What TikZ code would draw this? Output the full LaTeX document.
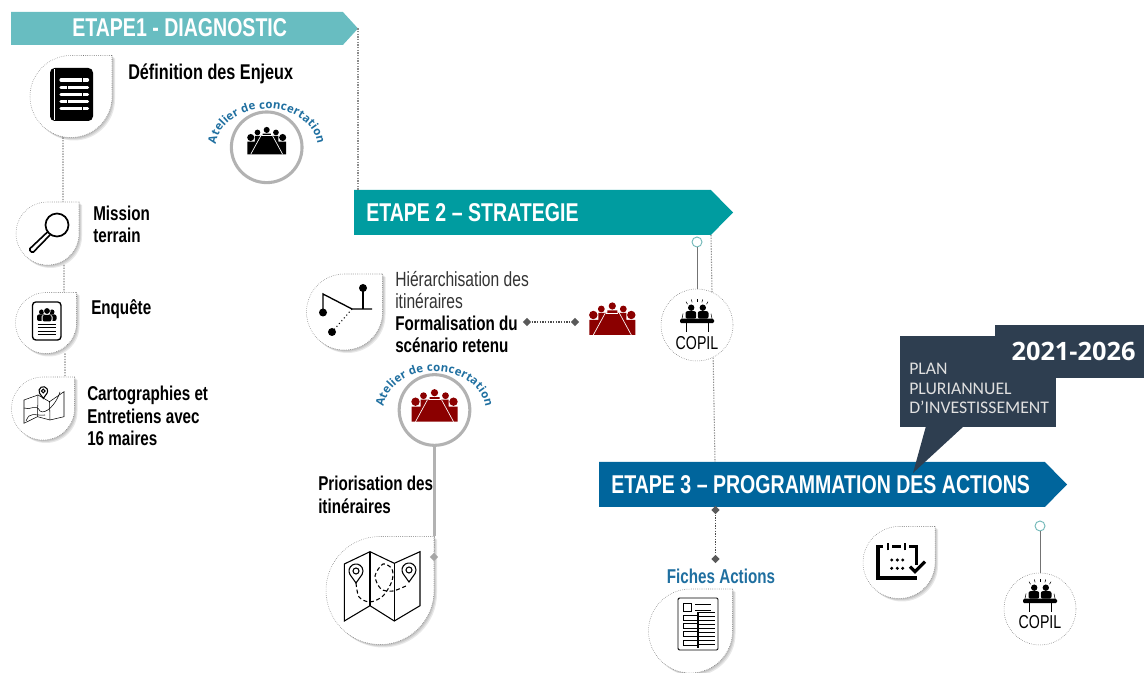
\documentclass[tikz,border=0pt]{standalone}
\usepackage{fontspec}
\usepackage{xcolor}
\usepackage{tikz}
\setmainfont{Liberation Sans}
\newfontfamily\narrowfont[FakeStretch=0.76]{Liberation Sans}
\newfontfamily\arcfont{Open Sans}
\newfontfamily\planfont{Carlito}
\usetikzlibrary{shapes,positioning,calc,backgrounds,decorations.text}

\definecolor{stepone}{HTML}{68BDC1}
\definecolor{steptwo}{HTML}{009CA0}
\definecolor{stepthree}{HTML}{00659C}
\definecolor{planblue}{HTML}{2E3E50}
\definecolor{arcblue}{HTML}{1F6FA0}
\definecolor{tablered}{HTML}{8B0000}
\definecolor{linkgray}{HTML}{8C8C8C}

\tikzset{
    bannerbox/.style={signal, signal to=east, anchor=west, inner sep=0pt, outer sep=0pt},
    bannertext/.style={anchor=west, inner sep=0pt, text=white, font=\narrowfont\bfseries\fontsize{19.3}{20}\selectfont},
    steptext/.style={anchor=west, inner sep=0pt, align=left, font=\narrowfont\bfseries\fontsize{15}{17}\selectfont},
    dropbox/.style={rectangle, inner sep=0pt, outer sep=0pt},
    dropedge/.style={draw=black!55, fill=white, line width=0.4pt, densely dotted},
    linkdot/.style={draw=linkgray, line width=1pt, densely dotted},
    linkdiamond/.style={diamond, fill=black!65, inner sep=0pt, minimum size=6.5pt},
    ringnode/.style={circle, draw=black!30, line width=2.3pt, fill=white, inner sep=0pt, minimum size=53pt},
    copilring/.style={circle, draw=black!60, densely dotted, line width=0.4pt, fill=white, inner sep=0pt, minimum size=54pt},
    pinnode/.style={circle, draw=teal!55, line width=0.7pt, fill=white, inner sep=0pt, minimum size=7.5pt},
    copiltext/.style={font=\narrowfont\fontsize{14}{14}\selectfont},
    % Table with people around it
    pics/meeting/.style={code={
        \fill (0,14) circle (3.6);
        \fill (-11,11) circle (3.4);
        \fill (11,11) circle (3.4);
        \fill (-19,5) circle (4.2);
        \fill (19,5) circle (4.2);
        \fill (-23,-15) -- (-23,0) -- (-14,0) -- (-14,7) -- (-5,7) -- (-5,9.5) -- (5,9.5) -- (5,7) -- (14,7) -- (14,0) -- (23,0) -- (23,-15) -- cycle;
        \draw[white, line width=0.5pt] (-6,7) -- (6,7);
        \draw[white, line width=0.5pt] (-7,7) -- (-19,-15);
        \draw[white, line width=0.5pt] (7,7) -- (19,-15);
    }},
    % Two people behind a desk
    pics/copildesk/.style={code={
        \fill[rounded corners=1] (-17,-2.5) rectangle (17,2);
        \draw[line width=0.7pt] (-11,-2) -- (-11,-11);
        \draw[line width=0.7pt] (11,-2) -- (11,-11);
        \fill (-5.8,13) circle (3.2);
        \fill (5.8,13) circle (3.2);
        \fill[rounded corners=1.5] (-11.5,2) rectangle (-0.8,9.5);
        \fill[rounded corners=1.5] (0.8,2) rectangle (11.5,9.5);
        \draw[line width=0.4pt] (-15,2) -- (-14,7);
        \draw[line width=0.4pt] (15,2) -- (14,7);
        \foreach \a in {60,75,90,105,120}
            \draw[line width=0.4pt] (\a:19) -- (\a:22);
    }},
    % Location pin
    pics/mappin/.style={code={
        \draw[line width=0.8pt] (0,-12) -- (-6.06,-3.5) arc[start angle=210, end angle=-30, radius=7] -- cycle;
        \draw[line width=0.8pt] (0,0) circle (3);
    }}
}

% Drop outline with its top right corner left square
\newcommand{\droppath}[3]{({#1+#3},{#2+#3}) -- ({#1+#3},#2) arc[start angle=0, end angle=-270, radius=#3] -- cycle}
\newcommand{\dropnode}[4]{
    \foreach \d in {3,2,1}
        \fill[black, opacity=0.09, shift={(\d,-\d)}] \droppath{#2}{#3}{#4};
    \path[dropedge] \droppath{#2}{#3}{#4};
    \node[dropbox, minimum size={1.5pt*#4}] (#1) at (#2,#3) {};
}
% Ring with the curved title and the table
\newcommand{\ateliernode}[6]{
    \node[ringnode] (#1) at (#2,#3) {};
    \pic[color=#4, scale=#5] at (#2,{#3+#6}) {meeting};
    \path[decorate, decoration={text along path, text align={fit to path},
        text={|\arcfont\fontsize{8.6}{10}\selectfont\bfseries\color{arcblue}|Atelier de concertation}}]
        ({#2-50.8},{#3+3}) arc[start angle=175, end angle=5, x radius=51, y radius=39];
}

\begin{document}
\begin{tikzpicture}[x=0.75pt, y=0.75pt]
    \useasboundingbox (0,0) rectangle (1144,673);

    % Banners
    \node[bannerbox, fill=stepone, signal pointer angle=95, minimum width=260.25pt, minimum height=24.75pt] (bannerA) at (11,644.5) {};
    \node[bannerbox, fill=steptwo, signal pointer angle=91, minimum width=284.25pt, minimum height=33.75pt] (bannerB) at (354,460.5) {};
    \node[bannerbox, fill=stepthree, signal pointer angle=91, minimum width=351pt, minimum height=33.75pt] (bannerC) at (599,188.5) {};
    \node[bannertext] (labelA) at (72,645) {ETAPE1 - DIAGNOSTIC};
    \node[bannertext] (labelB) at (366,460.5) {ETAPE 2 – STRATEGIE};
    \node[bannertext] (labelC) at (611,188.5) {ETAPE 3 – PROGRAMMATION DES ACTIONS};

    % Dotted links between the banners
    \coordinate (tipB) at (711,438);
    \coordinate (joinC) at (715,211);
    \draw[linkdot, line width=0.8pt] (bannerA.east) -- (bannerA.east |- bannerB.north);
    \draw[linkdot, line width=0.8pt] (tipB) -- (joinC);

    % Drops of the first step
    \dropnode{dropA}{71}{576.5}{41}
    \dropnode{dropB}{47.5}{439.5}{31.5}
    \dropnode{dropC}{46}{350}{30.5}
    \dropnode{dropD}{43}{264.5}{31.5}
    \begin{pgfonlayer}{background}
        \draw[linkdot] ([xshift=-6pt]dropA.south) -- ([xshift=11.6pt]dropB.north);
        \draw[linkdot] ([xshift=12.4pt]dropB.south) -- ([xshift=13.5pt]dropC.north);
        \draw[linkdot] ([xshift=14.2pt]dropC.south) -- ([xshift=16.5pt]dropD.north);
    \end{pgfonlayer}

    % Document icon
    \fill[rounded corners=3.5] (50,552) rectangle (93,605);
    \draw[white, line width=0.6pt] (54.5,553) -- (54.5,604);
    \foreach \y/\g in {593/81.5, 585.7/66.5, 578.7/81.5, 571.7/66.5, 564.3/81.5} {
        \draw[white, line width=2.4pt, line cap=round] (61,\y) -- (87.5,\y);
        \fill (\g,{\y-1.8}) rectangle ({\g+1.2},{\y+1.8});
    }

    % Magnifier icon
    \draw[line width=1.3pt] (57,448) circle (11.5);
    \draw[line width=1.2pt, line cap=round, rounded corners=1] (47.5,441) -- (29,423.5) -- (32.5,420) -- (50,438);

    % Survey icon
    \draw[line width=1pt, rounded corners=2.5] (32.5,333) rectangle (61,371);
    \foreach \x/\r in {41.5/2.5, 52/2.5} {
        \fill (\x,361) circle (\r);
        \fill[rounded corners=1.5] (\x-4.5,352) rectangle (\x+4.5,358.5);
    }
    \fill[white] (47,362) circle (3.7);
    \fill[white, rounded corners=1.5] (41.5,350.5) rectangle (52.5,358);
    \fill (47,362) circle (2.9);
    \fill[rounded corners=1.5] (42.5,351.5) rectangle (51.5,358);
    \foreach \y in {349,345.7,341.7,338.3}
        \draw[line width=0.7pt] (37.5,\y) -- (56,\y);

    % Folded map icon
    \draw[line width=0.4pt] (24,273) -- (38,278) -- (49.5,271.3) -- (64,281.3) -- (64,256.3) -- (50,253) -- (37.5,256.3) -- (24,249.7) -- cycle;
    \draw[line width=0.4pt] (38,278) -- (37.5,256.3);
    \draw[line width=0.4pt] (49.5,271.3) -- (50,253);
    \draw[line width=0.4pt] (24,265) .. controls (30,262) and (36,270) .. (40,262) .. controls (45,258) and (56,268) .. (60,281);
    \draw[line width=0.4pt] (26,252) .. controls (30,262) and (34,257) .. (45,258);
    \pic[scale=0.62, line width=0.4pt] at (43.3,282) {mappin};

    % Texts of the first step
    \node[steptext, font=\narrowfont\bfseries\fontsize{16}{17}\selectfont] (enjeux) at (128,599) {Définition des Enjeux};
    \node[steptext] (mission) at (93,448.5) {Mission\\terrain};
    \node[steptext] (enquete) at (91,364) {Enquête};
    \node[steptext] (cartes) at (87,257) {Cartographies et\\Entretiens avec\\16 maires};
    \ateliernode{atelierA}{266.7}{525.7}{black}{0.84}{5.6}

    % Second step
    \dropnode{dropE}{344.5}{361}{38}
    \draw[line width=1pt] (323,361) -- (323,379) -- (352,364) -- (372,364);
    \draw[line width=1pt] (363,364) -- (363,385);
    \draw[line width=0.8pt, dotted] (352,364) -- (332,341);
    \fill (323,360.5) circle (4);
    \fill (363,385) circle (4);
    \fill (332,341) circle (4);
    \node[steptext, text=black!80, font=\narrowfont\fontsize{15.4}{16.5}\selectfont] (hierarchie) at (395,361)
        {Hiérarchisation des\\itinéraires\\\textcolor{black}{\fontsize{15}{16.5}\selectfont\bfseries Formalisation du}\\\textcolor{black}{\fontsize{15}{16.5}\selectfont\bfseries scénario retenu}};
    \node[linkdiamond] (dotA) at (527,351) {};
    \node[linkdiamond] (dotB) at (575,351) {};
    \draw[linkdot, draw=black!70] (dotA) -- (dotB);
    \pic[color=tablered] at (612.3,353) {meeting};
    \ateliernode{atelierB}{434.5}{263}{tablered}{1}{3.3}
    \node[steptext] (priorisation) at (318,178) {Priorisation des\\itinéraires};
    \dropnode{dropF}{380}{82.5}{54}
    \node[linkdiamond, fill=black!35] (dotE) at (434,116) {};
    \begin{pgfonlayer}{background}
        \draw[draw=black!30, line width=1.6pt] (atelierB.south) -- (atelierB.south |- dropF.north);
    \end{pgfonlayer}
    \draw[linkdot, draw=black!35, line width=0.6pt] (dropF.north east) -- (dotE);

    % Route map icon
    \draw[line width=0.8pt] (344.3,109) -- (370,121.3) -- (394.3,109.7) -- (420,121.3) -- (420,67.3) -- (394.3,52) -- (370,67.3) -- (344.3,52) -- cycle;
    \draw[line width=0.8pt] (370,121.3) -- (370,67.3);
    \draw[line width=1.1pt] (394.3,109.7) -- (394.3,52);
    \pic at (356,102) {mappin};
    \pic at (409,103) {mappin};
    \draw[line width=0.8pt, densely dashed] plot[smooth] coordinates {(356,90) (359,76) (370,71) (383,77) (392,92) (392,104) (383,109) (375,97) (381,84) (393,82) (408,88)};

    % Desk committee of the second step
    \node[pinnode] (pinA) at (697,431) {};
    \node[copilring] (copilA) at (697,348) {};
    \draw[black!55, line width=0.6pt] (pinA) -- (copilA);
    \pic at (697,352.3) {copildesk};
    \node[copiltext] (copilAtext) at (697,330) {COPIL};

    % Third step
    \node[linkdiamond] (dotC) at (715.5,163) {};
    \node[linkdiamond] (dotD) at (715.5,114) {};
    \draw[linkdot, draw=black!70] (dotC) -- (dotD);
    \node[steptext, anchor=center, text=arcblue] (fiches) at (721,97) {Fiches Actions};
    \dropnode{dropG}{690.5}{42}{42}

    % Action sheet icon
    \draw[line width=0.7pt, fill=white, rounded corners=1] (678,23) rectangle (718,75);
    \draw[line width=0.6pt] (683,62) rectangle (691,70);
    \draw[line width=0.6pt] (695,69) -- (711,69);
    \draw[line width=0.6pt] (695,63) -- (711,63);
    \foreach \y in {53,45,37,28}
        \draw[line width=0.6pt] (683,\y) rectangle (697,{\y+4.5});
    \foreach \y in {61,57,53,49,45,41,37,33,29}
        \draw[line width=0.5pt] (698,\y) -- (715,\y);
    \draw[line width=1.5pt] (698,25) -- (698,61);

    % Calendar icon
    \dropnode{dropH}{899}{110.5}{36}
    \draw[line width=2.6pt] (883,126.3) -- (878,126.3) -- (878,95) -- (916.7,95);
    \draw[line width=2.6pt] (892,126.3) -- (901,126.3);
    \draw[line width=2.6pt] (909,126.3) -- (916.7,126.3) -- (916.7,108);
    \draw[line width=1.5pt] (888,122.5) -- (888,130);
    \draw[line width=1.5pt] (905,122.5) -- (905,130);
    \foreach \x in {891.7,897.3,902.7}
        \foreach \y in {113,104.7}
            \fill (\x,\y) circle (1.7);
    \draw[line width=2.4pt] (910,106.3) -- (915,101.3) -- (925,111.3);

    % Desk committee of the third step
    \node[pinnode] (pinB) at (1040,147) {};
    \node[copilring] (copilB) at (1040,64) {};
    \draw[black!55, line width=0.6pt] (pinB) -- (copilB);
    \pic at (1040,72.3) {copildesk};
    \node[copiltext] (copilBtext) at (1040,51.3) {COPIL};

    % Callout
    \node[rectangle, fill=planblue, inner sep=0pt, minimum width=117pt, minimum height=68.25pt] (planbox) at (978,291.5) {};
    \fill[planblue] (926,247) -- (913,200) -- (964,247) -- cycle;
    \node[rectangle, fill=planblue, inner sep=0pt, minimum width=111.75pt, minimum height=39.75pt] (yearbox) at (1069.5,321.5) {};
    \node[anchor=west, inner sep=0pt, align=left, text=black!12, font=\planfont\fontsize{13.3}{14.6}\selectfont] (plantext) at (909,284.5) {PLAN\\PLURIANNUEL\\D’INVESTISSEMENT};
    \node[text=white, font=\arcfont\bfseries\fontsize{19}{20}\selectfont] (yeartext) at (1073.5,322) {2021-2026};
\end{tikzpicture}
\end{document}
